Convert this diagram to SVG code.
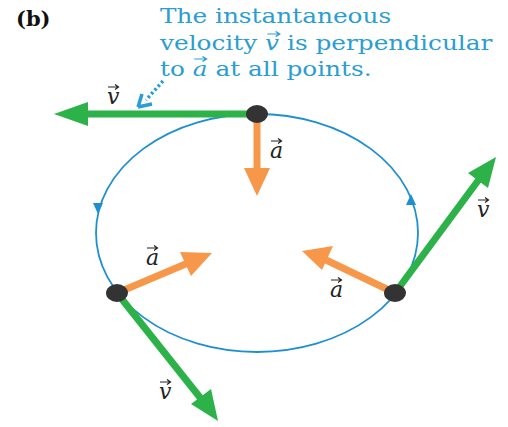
<svg xmlns="http://www.w3.org/2000/svg" width="508" height="427" viewBox="0 0 508 427">
<style>
.cap{font-family:"DejaVu Serif","Liberation Serif",serif;font-size:21px;fill:#2a9dd2}
.lbl{font-family:"DejaVu Serif","Liberation Serif",serif;font-size:22px;font-style:italic;fill:#222}
.v{stroke:#2db24a;stroke-width:7;fill:none}
.a{stroke:#f7974a;stroke-width:7;fill:none}
.vh{fill:#2db24a}
.ah{fill:#f7974a}
.dot{fill:#333}
.acc{stroke-width:1.2;fill:none}
</style>
<defs>
<g id="accK"><path d="M0,0 H10 M7,-2.5 L10.5,0 L7,2.5" stroke="#222" class="acc"/></g>
<g id="accB"><path d="M0,0 H10 M7,-2.5 L10.5,0 L7,2.5" stroke="#2a9dd2" class="acc"/></g>
</defs>
<rect width="508" height="427" fill="#fff"/>
<text x="16" y="26" font-family="DejaVu Serif,Liberation Serif,serif" font-weight="bold" font-size="21" fill="#111">(b)</text>
<g id="caption" transform="translate(160,0) scale(1.18,1)">
<text class="cap" x="0" y="23">The instantaneous</text>
<text class="cap" x="0" y="50">velocity <tspan font-style="italic">v</tspan> is perpendicular</text>
<text class="cap" x="0" y="76">to <tspan font-style="italic">a</tspan> at all points.</text>
<use href="#accB" x="91" y="34"/>
<use href="#accB" x="29" y="59"/>
</g>
<g id="path">
<ellipse cx="257" cy="233" rx="161" ry="119" fill="none" stroke="#1f8fd0" stroke-width="1.8"/>
<path d="M93,203 L103,203 L98,214 Z" fill="#1f8fd0"/>
<path d="M406,205 L416,205 L411,194 Z" fill="#1f8fd0"/>
</g>
<g id="connectors">
<path d="M163,81 L146,100" stroke="#2a9dd2" stroke-width="3.5" stroke-dasharray="2.5,2.5" fill="none"/>
<path d="M138,107 L152,104 M138,107 L142,94" stroke="#2a9dd2" stroke-width="3.5" fill="none"/>
</g>
<g id="top">
<line class="v" x1="257" y1="114" x2="82" y2="114"/>
<path class="vh" d="M54,114 L88,102 L88,126 Z"/>
<line class="a" x1="257" y1="114" x2="257" y2="172"/>
<path class="ah" d="M257,196 L244,168 L270,168 Z"/>
<ellipse class="dot" cx="257" cy="114" rx="11" ry="9"/>
<text class="lbl" x="107" y="104">v</text>
<use href="#accK" x="108" y="87"/>
<text class="lbl" x="270" y="158">a</text>
<use href="#accK" x="271" y="141"/>
</g>
<g id="left">
<line class="v" x1="117" y1="293" x2="202" y2="400"/>
<path class="vh" d="M218,421 L191,404 L211,389 Z"/>
<line class="a" x1="117" y1="293" x2="188" y2="263"/>
<path class="ah" d="M212,253 L180,252 L191,276 Z"/>
<ellipse class="dot" cx="117" cy="293" rx="11" ry="9"/>
<text class="lbl" x="146" y="265">a</text>
<use href="#accK" x="147" y="248"/>
<text class="lbl" x="159" y="399">v</text>
<use href="#accK" x="160" y="382"/>
</g>
<g id="right">
<line class="v" x1="395" y1="293" x2="480" y2="178"/>
<path class="vh" d="M496,157 L468,173 L488,188 Z"/>
<line class="a" x1="395" y1="293" x2="326" y2="260"/>
<path class="ah" d="M302,251 L333,246 L322,270 Z"/>
<ellipse class="dot" cx="395" cy="293" rx="11" ry="9"/>
<text class="lbl" x="477" y="217">v</text>
<use href="#accK" x="478" y="200"/>
<text class="lbl" x="330" y="297">a</text>
<use href="#accK" x="331" y="280"/>
</g>
</svg>
